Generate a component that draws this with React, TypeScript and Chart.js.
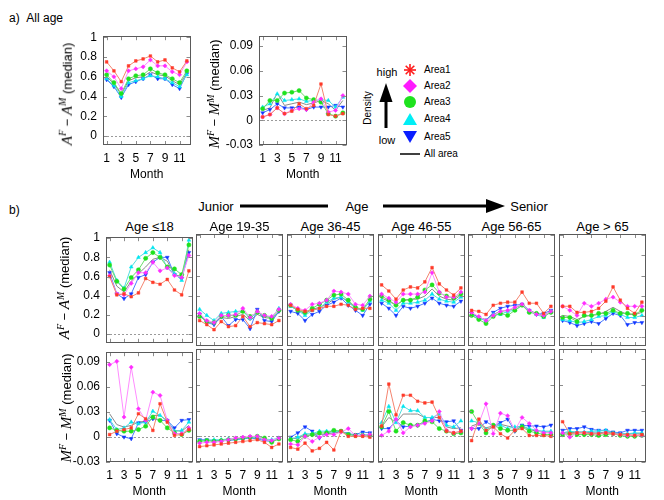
import { useEffect, useRef } from 'react'
import { Chart, registerables } from 'chart.js'

Chart.register(...registerables)

// ---- data ----
const months = [1, 2, 3, 4, 5, 6, 7, 8, 9, 10, 11, 12]
const monthTicks = [1, 3, 5, 7, 9, 11]
const aTicks = [0, 0.2, 0.4, 0.6, 0.8, 1]
const mTicks = [-0.03, 0, 0.03, 0.06, 0.09]
const areaNames = ['Area1', 'Area2', 'Area3', 'Area4', 'Area5', 'All area']
const ageGroups = ['Age \u226418', 'Age 19-35', 'Age 36-45', 'Age 46-55', 'Age 56-65', 'Age > 65']

// each row: Area1..Area5, All area
const allAgeA = [
  [0.75, 0.66, 0.55, 0.71, 0.76, 0.78, 0.81, 0.75, 0.77, 0.69, 0.65, 0.76],
  [0.66, 0.60, 0.48, 0.66, 0.68, 0.70, 0.77, 0.71, 0.71, 0.65, 0.62, 0.75],
  [0.62, 0.54, 0.43, 0.58, 0.61, 0.62, 0.68, 0.64, 0.62, 0.58, 0.54, 0.66],
  [0.58, 0.51, 0.40, 0.54, 0.56, 0.58, 0.61, 0.60, 0.58, 0.54, 0.50, 0.62],
  [0.57, 0.50, 0.39, 0.52, 0.55, 0.58, 0.62, 0.58, 0.58, 0.52, 0.48, 0.63],
  [0.60, 0.53, 0.42, 0.56, 0.59, 0.60, 0.65, 0.62, 0.61, 0.56, 0.52, 0.64],
]
const allAgeM = [
  [0.004, 0.007, 0.015, 0.008, 0.011, 0.020, 0.014, 0.018, 0.044, 0.007, 0.005, 0.008],
  [0.004, 0.007, 0.015, 0.008, 0.012, 0.014, 0.013, 0.022, 0.026, 0.010, 0.012, 0.030],
  [0.014, 0.024, 0.024, 0.033, 0.034, 0.036, 0.027, 0.025, 0.022, 0.008, 0.005, 0.009],
  [0.016, 0.020, 0.032, 0.024, 0.025, 0.026, 0.023, 0.024, 0.025, 0.024, 0.016, 0.028],
  [0.009, 0.013, 0.020, 0.015, 0.015, 0.016, 0.013, 0.016, 0.016, 0.016, 0.018, 0.016],
  [0.012, 0.015, 0.033, 0.018, 0.020, 0.022, 0.019, 0.021, 0.024, 0.020, 0.012, 0.024],
]
const age18A = [
  [0.60, 0.41, 0.42, 0.39, 0.43, 0.58, 0.54, 0.52, 0.57, 0.46, 0.41, 0.66],
  [0.61, 0.42, 0.41, 0.53, 0.64, 0.64, 0.75, 0.66, 0.69, 0.61, 0.59, 0.82],
  [0.72, 0.55, 0.47, 0.59, 0.67, 0.79, 0.85, 0.80, 0.70, 0.68, 0.62, 0.93],
  [0.75, 0.56, 0.48, 0.70, 0.80, 0.85, 0.90, 0.85, 0.69, 0.63, 0.56, 0.98],
  [0.64, 0.42, 0.37, 0.42, 0.59, 0.62, 0.75, 0.80, 0.80, 0.62, 0.58, 0.85],
  [0.67, 0.50, 0.44, 0.55, 0.63, 0.70, 0.78, 0.80, 0.76, 0.62, 0.60, 0.88],
]
const age19A = [
  [0.16, 0.12, 0.07, 0.15, 0.10, 0.11, 0.20, 0.10, 0.14, 0.13, 0.12, 0.16],
  [0.23, 0.16, 0.14, 0.21, 0.21, 0.22, 0.28, 0.19, 0.25, 0.21, 0.20, 0.27],
  [0.20, 0.15, 0.14, 0.20, 0.21, 0.21, 0.25, 0.20, 0.24, 0.21, 0.18, 0.26],
  [0.27, 0.21, 0.16, 0.23, 0.24, 0.25, 0.25, 0.18, 0.24, 0.21, 0.19, 0.28],
  [0.22, 0.14, 0.12, 0.20, 0.11, 0.17, 0.17, 0.08, 0.27, 0.16, 0.15, 0.25],
  [0.21, 0.15, 0.13, 0.19, 0.18, 0.20, 0.22, 0.16, 0.22, 0.19, 0.18, 0.24],
]
const age36A = [
  [0.31, 0.27, 0.25, 0.26, 0.28, 0.30, 0.30, 0.32, 0.31, 0.27, 0.28, 0.28],
  [0.32, 0.28, 0.26, 0.32, 0.33, 0.36, 0.45, 0.44, 0.42, 0.32, 0.31, 0.40],
  [0.31, 0.26, 0.24, 0.28, 0.32, 0.36, 0.41, 0.42, 0.36, 0.29, 0.27, 0.37],
  [0.30, 0.26, 0.21, 0.26, 0.28, 0.34, 0.38, 0.39, 0.34, 0.28, 0.26, 0.35],
  [0.25, 0.23, 0.16, 0.22, 0.25, 0.31, 0.34, 0.38, 0.31, 0.26, 0.21, 0.32],
  [0.30, 0.26, 0.23, 0.27, 0.29, 0.32, 0.37, 0.39, 0.35, 0.28, 0.27, 0.34],
]
const age46A = [
  [0.51, 0.45, 0.37, 0.46, 0.49, 0.48, 0.54, 0.68, 0.52, 0.46, 0.41, 0.48],
  [0.42, 0.38, 0.34, 0.42, 0.42, 0.42, 0.44, 0.63, 0.44, 0.39, 0.39, 0.44],
  [0.40, 0.36, 0.31, 0.36, 0.36, 0.39, 0.46, 0.51, 0.43, 0.40, 0.38, 0.42],
  [0.36, 0.33, 0.26, 0.33, 0.33, 0.34, 0.36, 0.42, 0.37, 0.35, 0.34, 0.39],
  [0.33, 0.28, 0.21, 0.30, 0.28, 0.30, 0.33, 0.38, 0.33, 0.31, 0.30, 0.35],
  [0.38, 0.35, 0.31, 0.36, 0.37, 0.37, 0.40, 0.47, 0.40, 0.37, 0.36, 0.41],
]
const age56A = [
  [0.26, 0.25, 0.22, 0.31, 0.33, 0.34, 0.34, 0.44, 0.33, 0.33, 0.23, 0.30],
  [0.24, 0.20, 0.16, 0.21, 0.25, 0.26, 0.29, 0.32, 0.26, 0.22, 0.21, 0.25],
  [0.21, 0.17, 0.13, 0.20, 0.23, 0.21, 0.26, 0.31, 0.24, 0.23, 0.20, 0.24],
  [0.21, 0.18, 0.16, 0.22, 0.22, 0.25, 0.26, 0.31, 0.25, 0.22, 0.19, 0.25],
  [0.23, 0.19, 0.16, 0.24, 0.28, 0.30, 0.31, 0.32, 0.26, 0.22, 0.23, 0.26],
  [0.23, 0.19, 0.17, 0.22, 0.25, 0.26, 0.28, 0.32, 0.26, 0.23, 0.21, 0.25],
]
const age65A = [
  [0.30, 0.30, 0.24, 0.24, 0.25, 0.28, 0.35, 0.49, 0.36, 0.28, 0.23, 0.34],
  [0.30, 0.26, 0.21, 0.33, 0.30, 0.33, 0.37, 0.39, 0.34, 0.30, 0.30, 0.30],
  [0.19, 0.19, 0.15, 0.21, 0.21, 0.23, 0.23, 0.26, 0.23, 0.23, 0.22, 0.26],
  [0.17, 0.16, 0.14, 0.15, 0.17, 0.20, 0.21, 0.25, 0.22, 0.19, 0.19, 0.21],
  [0.16, 0.14, 0.11, 0.13, 0.15, 0.13, 0.18, 0.23, 0.21, 0.12, 0.14, 0.14],
  [0.21, 0.20, 0.17, 0.20, 0.21, 0.22, 0.25, 0.29, 0.25, 0.22, 0.22, 0.24],
]
const age18M = [
  [0.003, 0.007, 0.009, 0.011, 0.028, 0.022, 0.008, 0.040, 0.018, 0.002, 0.003, 0.009],
  [0.087, 0.091, 0.024, 0.084, 0.034, 0.020, 0.054, 0.050, 0.020, 0.004, 0.004, 0.011],
  [0.011, 0.008, 0.007, 0.007, 0.009, 0.013, 0.024, 0.020, 0.011, 0.005, 0.003, 0.008],
  [0.021, 0.009, 0.011, 0.018, 0.016, 0.018, 0.031, 0.026, 0.020, 0.007, 0.008, 0.018],
  [0.020, 0.004, 0.000, -0.002, 0.017, 0.018, 0.022, 0.020, 0.020, 0.011, 0.020, 0.021],
  [0.028, 0.015, 0.012, 0.014, 0.018, 0.019, 0.026, 0.026, 0.019, 0.008, 0.007, 0.014],
]
const age19M = [
  [-0.012, -0.011, -0.010, -0.009, -0.008, -0.007, -0.006, -0.005, -0.004, -0.007, -0.013, -0.009],
  [-0.008, -0.007, -0.007, -0.006, -0.004, -0.002, -0.001, 0.000, 0.000, -0.004, -0.005, -0.002],
  [-0.006, -0.005, -0.006, -0.005, -0.004, -0.003, -0.002, -0.001, 0.000, -0.002, -0.007, -0.003],
  [-0.005, -0.005, -0.004, -0.004, -0.003, -0.003, -0.002, -0.001, -0.001, -0.003, -0.004, -0.002],
  [-0.004, -0.004, -0.005, -0.005, -0.005, -0.004, -0.003, -0.002, -0.003, -0.005, -0.006, -0.002],
  [-0.005, -0.005, -0.005, -0.005, -0.004, -0.003, -0.002, -0.001, -0.001, -0.004, -0.006, -0.003],
]
const age36M = [
  [-0.013, -0.015, -0.008, -0.017, -0.014, -0.007, -0.016, 0.006, 0.000, 0.000, 0.000, -0.001],
  [-0.009, -0.010, 0.000, -0.006, -0.001, 0.002, 0.002, 0.005, 0.009, 0.001, 0.001, 0.002],
  [-0.004, -0.006, 0.000, 0.002, 0.004, 0.004, 0.007, 0.006, 0.002, 0.001, 0.001, 0.001],
  [-0.003, -0.001, 0.003, 0.003, 0.006, 0.006, 0.006, 0.006, 0.002, 0.001, 0.002, 0.002],
  [-0.001, 0.004, 0.011, 0.006, -0.002, 0.004, 0.006, 0.006, 0.003, 0.002, 0.005, 0.004],
  [-0.002, -0.003, 0.002, 0.001, 0.002, 0.003, 0.004, 0.005, 0.003, 0.001, 0.001, 0.001],
]
const age46M = [
  [0.012, 0.061, 0.025, 0.048, 0.048, 0.041, 0.039, 0.040, 0.022, 0.006, 0.004, 0.006],
  [0.001, 0.006, 0.020, 0.004, 0.011, 0.013, 0.015, 0.018, 0.029, 0.007, 0.004, 0.006],
  [0.011, 0.029, 0.006, 0.016, 0.013, 0.013, 0.018, 0.017, 0.009, 0.006, 0.003, 0.004],
  [0.016, 0.035, 0.016, 0.035, 0.030, 0.030, 0.022, 0.022, 0.026, 0.013, 0.011, 0.018],
  [0.009, 0.009, 0.018, 0.011, 0.012, 0.013, 0.016, 0.020, 0.018, 0.017, 0.018, 0.007],
  [0.011, 0.022, 0.016, 0.026, 0.026, 0.026, 0.022, 0.022, 0.022, 0.011, 0.009, 0.010],
]
const age56M = [
  [-0.005, 0.020, 0.007, 0.011, 0.003, -0.002, 0.007, 0.009, 0.001, 0.001, 0.001, 0.000],
  [0.009, 0.015, 0.038, 0.003, 0.027, 0.024, 0.007, 0.022, 0.015, 0.007, 0.004, 0.004],
  [0.029, 0.015, 0.004, 0.013, 0.009, 0.007, 0.007, 0.011, 0.006, 0.004, 0.002, 0.002],
  [0.018, 0.016, 0.008, 0.011, 0.013, 0.009, 0.011, 0.012, 0.009, 0.007, 0.006, 0.006],
  [0.009, 0.009, 0.017, 0.012, 0.016, 0.020, 0.006, 0.013, 0.012, 0.012, 0.011, 0.013],
  [0.012, 0.015, 0.010, 0.012, 0.014, 0.012, 0.010, 0.012, 0.008, 0.006, 0.005, 0.005],
]
const age65M = [
  [0.017, 0.003, 0.004, 0.004, 0.003, 0.003, 0.004, 0.003, 0.002, 0.002, 0.001, 0.002],
  [0.004, -0.001, 0.004, 0.004, 0.003, 0.003, 0.004, 0.003, 0.002, 0.001, 0.001, 0.001],
  [0.002, 0.003, 0.002, 0.002, 0.002, 0.001, 0.002, 0.003, 0.001, 0.000, 0.000, 0.001],
  [0.004, 0.006, 0.005, 0.005, 0.006, 0.006, 0.007, 0.004, 0.003, 0.003, 0.004, 0.004],
  [0.007, 0.009, 0.009, 0.011, 0.008, 0.007, 0.007, 0.005, 0.004, 0.007, 0.007, 0.007],
  [0.004, 0.004, 0.005, 0.005, 0.004, 0.004, 0.005, 0.004, 0.003, 0.003, 0.003, 0.003],
]

const rowA = [age18A, age19A, age36A, age46A, age56A, age65A]
const rowM = [age18M, age19M, age36M, age46M, age56M, age65M]

// ---- styles ----
const FONT = "'Liberation Sans', Arial, Helvetica, sans-serif"
const seriesStyles = [
  { line: '#f4846f', point: '#ff3a2a', shape: 'rect', radius: 1.9, rotation: 0 },
  { line: '#ff8cff', point: '#ff2cff', shape: 'rectRot', radius: 2.1, rotation: 0 },
  { line: '#6cdc6c', point: '#1ee21e', shape: 'circle', radius: 2.1, rotation: 0 },
  { line: '#50dede', point: '#00e6f0', shape: 'triangle', radius: 2.2, rotation: 0 },
  { line: '#4a7dff', point: '#1236ff', shape: 'triangle', radius: 2.2, rotation: 180 },
  { line: '#8a8a8a', point: '#8a8a8a', shape: 'circle', radius: 0, rotation: 0 },
]

const colLefts = [106, 196, 287, 378, 468, 559]
const BOX_W = 87

const framePlugin = {
  id: 'frame',
  beforeDatasetsDraw(chart: any) {
    const { ctx, chartArea: a, scales } = chart
    const y0 = Math.round(scales.y.getPixelForValue(0)) + 0.5
    ctx.save()
    ctx.strokeStyle = '#9a9a9a'
    ctx.lineWidth = 1
    ctx.setLineDash([2, 2])
    ctx.beginPath()
    ctx.moveTo(a.left, y0)
    ctx.lineTo(a.right, y0)
    ctx.stroke()
    ctx.restore()
  },
  afterDraw(chart: any) {
    const { ctx, chartArea: a, scales } = chart
    const len = 4
    ctx.save()
    ctx.strokeStyle = '#8c8c8c'
    ctx.lineWidth = 1
    ctx.beginPath()
    scales.x.ticks.forEach((t: any) => {
      const px = Math.round(scales.x.getPixelForValue(t.value)) + 0.5
      ctx.moveTo(px, a.bottom)
      ctx.lineTo(px, a.bottom - len)
      ctx.moveTo(px, a.top)
      ctx.lineTo(px, a.top + len)
    })
    scales.y.ticks.forEach((t: any) => {
      const py = Math.round(scales.y.getPixelForValue(t.value)) + 0.5
      ctx.moveTo(a.left, py)
      ctx.lineTo(a.left + len, py)
      ctx.moveTo(a.right, py)
      ctx.lineTo(a.right - len, py)
    })
    ctx.stroke()
    ctx.strokeStyle = '#5a5a5a'
    ctx.strokeRect(Math.round(a.left) + 0.5, Math.round(a.top) + 0.5, Math.round(a.width) - 1, Math.round(a.height) - 1)
    ctx.restore()
  },
}

interface PanelProps {
  values: number[][]
  kind: 'A' | 'M'
  left: number
  top: number
  width: number
  height: number
  yLabels: boolean
  xLabels: boolean
}

function Panel({ values, kind, left, top, width, height, yLabels, xLabels }: PanelProps) {
  const canvasRef = useRef<HTMLCanvasElement>(null)
  const L = yLabels ? 46 : 6
  const T = 10
  const R = 4
  const B = xLabels ? 37 : 10

  useEffect(() => {
    if (!canvasRef.current) return
    const yt = kind === 'A' ? aTicks : mTicks
    const font = { family: FONT, size: 12 }
    const chart = new Chart(canvasRef.current, {
      type: 'line',
      data: {
        datasets: values.map((row, i) => {
          const s = seriesStyles[i]
          return {
            label: areaNames[i],
            data: row.map((v, j) => ({ x: months[j], y: v })),
            borderColor: s.line,
            borderWidth: 1,
            backgroundColor: s.point,
            pointBackgroundColor: s.point,
            pointBorderColor: s.point,
            pointBorderWidth: 0.5,
            pointStyle: s.shape,
            pointRadius: s.radius,
            pointRotation: s.rotation,
            tension: 0,
          }
        }),
      } as any,
      options: {
        animation: false,
        responsive: false,
        events: [],
        layout: { padding: { left: 0, top: T, right: R, bottom: 0 } },
        plugins: { legend: { display: false }, tooltip: { enabled: false } },
        scales: {
          x: {
            type: 'linear',
            min: 0.5,
            max: 12.5,
            afterBuildTicks: (s: any) => { s.ticks = monthTicks.map(v => ({ value: v })) },
            afterFit: (s: any) => { s.height = B },
            grid: { display: false, drawTicks: false },
            border: { display: false },
            ticks: {
              display: xLabels,
              padding: 6,
              font,
              color: '#000',
              autoSkip: false,
              maxRotation: 0,
              callback: (v: any) => String(v),
            },
            title: { display: xLabels, text: 'Month', font, color: '#000', padding: 0 },
          },
          y: {
            type: 'linear',
            min: kind === 'A' ? -0.09 : -0.03,
            max: kind === 'A' ? 1.01 : 0.102,
            afterBuildTicks: (s: any) => { s.ticks = yt.map(v => ({ value: v })) },
            afterFit: (s: any) => { s.width = L },
            grid: { display: false, drawTicks: false },
            border: { display: false },
            ticks: {
              display: yLabels,
              padding: 6,
              font,
              color: '#000',
              autoSkip: false,
              callback: (v: any) => String(v),
            },
          },
        },
      } as any,
      plugins: [framePlugin as any],
    })
    return () => chart.destroy()
  }, [values, kind, yLabels, xLabels, L, B])

  return (
    <canvas
      ref={canvasRef}
      width={L + width + R}
      height={T + height + B}
      style={{ position: 'absolute', left: left - L, top: top - T }}
    />
  )
}

function YTitle({ cx, cy, sym }: { cx: number, cy: number, sym: string }) {
  const it = { fontFamily: "'Liberation Serif', 'DejaVu Serif', serif", fontStyle: 'italic', fontSize: 15 }
  const sup = { fontSize: 10, verticalAlign: '0.55em', lineHeight: 1 }
  return (
    <div style={{
      position: 'absolute', left: cx, top: cy, transform: 'translate(-50%, -50%) rotate(-90deg)',
      whiteSpace: 'nowrap', fontSize: 13, lineHeight: 1,
    }}>
      <span style={it}>{sym}</span><span style={{ ...sup, ...it, fontSize: 10 }}>F</span>
      <span> − </span>
      <span style={it}>{sym}</span><span style={{ ...sup, ...it, fontSize: 10 }}>M</span>
      <span> (median)</span>
    </div>
  )
}

function Text({ x, y, children, size = 12, anchor = 'left' }: any) {
  const tx = anchor === 'center' ? '-50%' : '0'
  return (
    <div style={{ position: 'absolute', left: x, top: y, transform: `translate(${tx}, -50%)`, fontSize: size, whiteSpace: 'nowrap', lineHeight: 1 }}>
      {children}
    </div>
  )
}

function Legend() {
  const ys = [70, 86, 102, 119, 137, 154]
  const mx = 410
  return (
    <>
      <svg style={{ position: 'absolute', left: 0, top: 0 }} width={664} height={240}>
        {/* density arrow */}
        <rect x={384.5} y={98} width={3} height={30} fill="#000" />
        <polygon points="386,83 379.5,102 392.5,102" fill="#000" />
        {/* Area1 star */}
        <g stroke="#ff1a1a" strokeWidth={1.6}>
          <line x1={mx - 6} y1={ys[0]} x2={mx + 6} y2={ys[0]} />
          <line x1={mx} y1={ys[0] - 6} x2={mx} y2={ys[0] + 6} />
          <line x1={mx - 4.3} y1={ys[0] - 4.3} x2={mx + 4.3} y2={ys[0] + 4.3} />
          <line x1={mx - 4.3} y1={ys[0] + 4.3} x2={mx + 4.3} y2={ys[0] - 4.3} />
        </g>
        <polygon points={`${mx},${ys[1] - 7} ${mx + 7},${ys[1]} ${mx},${ys[1] + 7} ${mx - 7},${ys[1]}`} fill="#ff1aff" />
        <circle cx={mx} cy={ys[2]} r={6} fill="#1ee21e" />
        <polygon points={`${mx},${ys[3] - 6} ${mx + 7},${ys[3] + 6} ${mx - 7},${ys[3] + 6}`} fill="#00eef5" />
        <polygon points={`${mx - 7},${ys[4] - 6} ${mx + 7},${ys[4] - 6} ${mx},${ys[4] + 6}`} fill="#0a1eff" />
        <line x1={mx - 10} y1={ys[5]} x2={mx + 10} y2={ys[5]} stroke="#000" strokeWidth={1.5} />
        {/* Junior -- Age --> Senior */}
        <rect x={240} y={204.5} width={88} height={3} fill="#000" />
        <rect x={383} y={204.5} width={105} height={3} fill="#000" />
        <polygon points="486,199 505,206 486,213" fill="#000" />
      </svg>
      <Text x={387} y={72} size={11} anchor="center">high</Text>
      <Text x={387} y={140} size={11} anchor="center">low</Text>
      <div style={{ position: 'absolute', left: 368, top: 108, transform: 'translate(-50%, -50%) rotate(-90deg)', fontSize: 10, whiteSpace: 'nowrap', lineHeight: 1 }}>Density</div>
      {areaNames.map((n, i) => (
        <Text key={n} x={424} y={ys[i]} size={10}>{n}</Text>
      ))}
    </>
  )
}

export default function App() {
  return (
    <div style={{ position: 'fixed', left: 0, top: 0, width: 664, height: 500, background: '#fff', fontFamily: FONT, color: '#000', overflow: 'hidden' }}>
      <Text x={9} y={18} size={12}>a)&nbsp;&nbsp;All age</Text>
      <Text x={9} y={210} size={12}>b)</Text>
      <Text x={216} y={206} size={13} anchor="center">Junior</Text>
      <Text x={357} y={206} size={13} anchor="center">Age</Text>
      <Text x={529} y={206} size={13} anchor="center">Senior</Text>

      <Legend />
      <Panel values={allAgeA} kind="A" left={103} top={33} width={88} height={112} yLabels xLabels />
      <Panel values={allAgeM} kind="M" left={259} top={33} width={88} height={112} yLabels xLabels />
      <YTitle cx={66} cy={94} sym="A" />
      <YTitle cx={214} cy={94} sym="M" />

      {ageGroups.map((g, i) => (
        <Text key={g} x={colLefts[i] + BOX_W / 2} y={226} size={13} anchor="center">{g}</Text>
      ))}
      {rowA.map((v, i) => (
        <Panel key={'a' + i} values={v} kind="A" left={colLefts[i]} top={234} width={BOX_W} height={112} yLabels={i === 0} xLabels={false} />
      ))}
      {rowM.map((v, i) => (
        <Panel key={'m' + i} values={v} kind="M" left={colLefts[i]} top={349} width={BOX_W} height={113} yLabels={i === 0} xLabels />
      ))}
      <YTitle cx={64} cy={288} sym="A" />
      <YTitle cx={66} cy={408} sym="M" />
    </div>
  )
}
